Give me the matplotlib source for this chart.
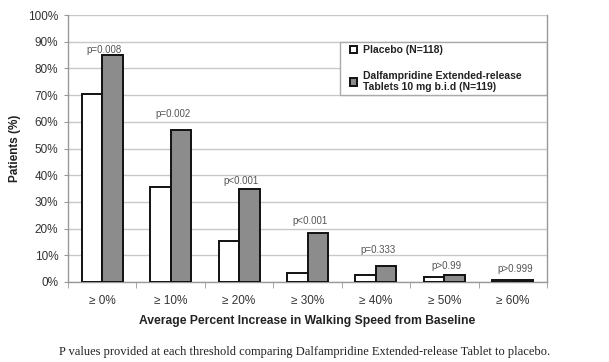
import matplotlib
matplotlib.use("Agg")
import matplotlib.pyplot as plt
from matplotlib.patches import Rectangle
import numpy as np

categories = ["\u2265 0%", "\u2265 10%", "\u2265 20%", "\u2265 30%", "\u2265 40%", "\u2265 50%", "\u2265 60%"]
placebo = [70.5, 35.6, 15.3, 3.4, 2.5, 1.7, 0.8]
drug = [85.0, 56.8, 34.8, 18.5, 6.0, 2.5, 0.8]
pvals = ["p=0.008", "p=0.002", "p<0.001", "p<0.001", "p=0.333", "p>0.99", "p>0.999"]
pval_label_y = [87, 63, 38, 23, 12, 6, 5]
yticks = [0, 10, 20, 30, 40, 50, 60, 70, 80, 90, 100]

plt.rcParams['font.family'] = ['Liberation Sans', 'DejaVu Sans']

fig = plt.figure(figsize=(6.09, 3.62), dpi=100)
ax = fig.add_axes([68/609, 1-282/362, (547-68)/609, (282-15)/362])

x = np.arange(len(categories))
w = 0.3
ax.bar(x - w/2, placebo, w, color='white', edgecolor='#111111', linewidth=1.4, zorder=3, label='Placebo (N=118)')
ax.bar(x + w/2, drug, w, color='#8c8c8c', edgecolor='#111111', linewidth=1.4, zorder=3,
       label='Dalfampridine Extended-release\nTablets 10 mg b.i.d (N=119)')

for i, p in enumerate(pvals):
    ax.text(x[i] + 0.03, pval_label_y[i], p, ha='center', va='center', fontsize=7, color='#555555', zorder=4)

ax.set_xlim(-0.5, len(categories) - 0.5)
ax.set_ylim(0, 100)
ax.set_yticks(yticks)
ax.set_yticklabels([f"{v}%" for v in yticks], fontsize=8.5, color='#333333')
ax.yaxis.grid(True, color='#c8c8c8', linewidth=1.0, zorder=0)
ax.set_axisbelow(True)

ax.set_xticks(x)
ax.set_xticklabels(categories, fontsize=8.5, color='#333333')
ax.tick_params(axis='x', length=0, pad=9)
ax.set_xticks(np.arange(len(categories) + 1) - 0.5, minor=True)
ax.tick_params(axis='x', which='minor', length=4, color='#999999')
ax.tick_params(axis='y', length=3, color='#999999', pad=4)

for s in ['left', 'bottom', 'right']:
    ax.spines[s].set_color('#999999')
    ax.spines[s].set_linewidth(1.0)
ax.spines['top'].set_visible(False)

ax.set_ylabel('Patients (%)', fontsize=8.5, fontweight='bold', color='#222222', labelpad=5)
ax.set_xlabel('Average Percent Increase in Walking Speed from Baseline', fontsize=8.7,
              fontweight='bold', color='#222222', labelpad=6)

# legend box
ax.add_patch(Rectangle(((340-68)/479, 0.7), 1 - (340-68)/479, 0.2, transform=ax.transAxes,
                       facecolor='white', edgecolor='#aaaaaa', linewidth=1.0, zorder=2))
leg = ax.legend(loc='upper left', bbox_to_anchor=((348-68)/479, (282-43)/267), fontsize=7.5, frameon=False,
                handlelength=0.7, handleheight=0.7, handletextpad=0.5, labelspacing=1.5,
                borderpad=0.2, borderaxespad=0)
leg.set_zorder(5)
for t in leg.get_texts():
    t.set_fontweight('bold')
    t.set_color('#222222')

fig.text(0.5, 1 - 352/362, 'P values provided at each threshold comparing Dalfampridine Extended-release Tablet to placebo.',
         ha='center', va='center', fontsize=9, family=['Liberation Serif', 'DejaVu Serif'], color='#222222')

fig.savefig('out.png', dpi=100)
